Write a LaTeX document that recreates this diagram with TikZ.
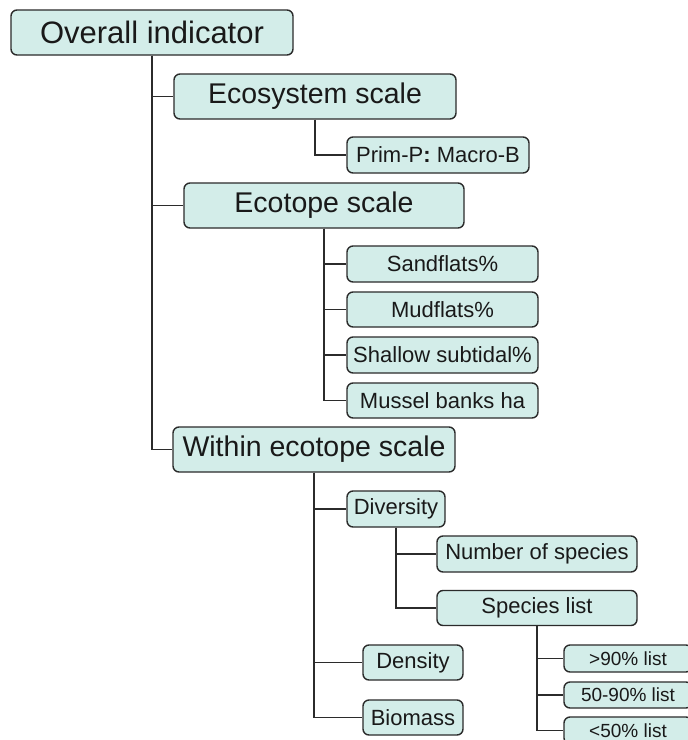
\documentclass[tikz,border=0pt]{standalone}
\usepackage{fontspec}
\setmainfont{Liberation Sans}
\definecolor{boxfill}{HTML}{D3EDE9}
\definecolor{boxline}{HTML}{2B2B2B}
\tikzset{
  box/.style={draw=boxline, line width=1.4pt, fill=boxfill, rounded corners=6pt, inner sep=0pt, align=center, text=black!90},
  huge/.style={box, font=\fontsize{31}{31}\selectfont},
  big/.style={box, font=\fontsize{28.5}{28.5}\selectfont},
  mid/.style={box, font=\fontsize{22}{22}\selectfont},
  small/.style={box, font=\fontsize{19}{19}\selectfont},
  link/.style={draw=boxline, line width=1.6pt}
}
\begin{document}
\begin{tikzpicture}[x=1pt,y=-1pt]
\useasboundingbox[fill=white] (0,0) rectangle (688,740);
% connectors first
\coordinate (ovs) at (152,55);
\coordinate (ecos) at (315,119);
\coordinate (ects) at (324,228);
\coordinate (wis) at (314,472);
\coordinate (divs) at (396,527);
\coordinate (spls) at (537,625);
\node[huge, minimum width=282pt, minimum height=45pt] (ov) at (152,32.5) {Overall indicator};
\node[big, minimum width=282pt, minimum height=45pt] (eco) at (315,96.5) {Ecosystem scale};
\node[mid, minimum width=182pt, minimum height=36pt] (prim) at (438,155) {Prim-P\textbf{:} Macro-B};
\node[big, minimum width=280pt, minimum height=45pt] (ect) at (324,205.5) {Ecotope scale};
\node[mid, minimum width=191pt, minimum height=36pt] (sand) at (442.5,264) {Sandflats\%};
\node[mid, minimum width=191pt, minimum height=35pt] (mud) at (442.5,309.5) {Mudflats\%};
\node[mid, minimum width=191pt, minimum height=36pt] (shal) at (442.5,355) {Shallow subtidal\%};
\node[mid, minimum width=191pt, minimum height=35pt] (mus) at (442.5,400.5) {Mussel banks ha};
\node[big, minimum width=282pt, minimum height=45pt] (wi) at (314,449.5) {Within ecotope scale};
\node[mid, minimum width=98pt, minimum height=36pt] (div) at (396,509) {Diversity};
\node[mid, minimum width=200pt, minimum height=36pt] (num) at (537,554) {Number of species};
\node[mid, minimum width=200pt, minimum height=35pt] (spl) at (537,608) {Species list};
\node[mid, minimum width=100pt, minimum height=35pt] (dens) at (413,662.5) {Density};
\node[mid, minimum width=100pt, minimum height=35pt] (bio) at (413,717.5) {Biomass};
\node[small, minimum width=128pt, minimum height=27pt] (p90) at (628,658.5) {>90\% list};
\node[small, minimum width=128pt, minimum height=26pt] (p50) at (628,695) {50-90\% list};
\node[small, minimum width=128pt, minimum height=27pt] (p5) at (628,730.5) {<50\% list};
% links
\draw[link] (ov.south) |- (eco.west);
\draw[link] (ov.south) |- (ect.west);
\draw[link] (ov.south) |- (wi.west);
\draw[link] (eco.south) |- (prim.west);
\draw[link] (ect.south) |- (sand.west);
\draw[link] (ect.south) |- (mud.west);
\draw[link] (ect.south) |- (shal.west);
\draw[link] (ect.south) |- (mus.west);
\draw[link] (wi.south) |- (div.west);
\draw[link] (wi.south) |- (dens.west);
\draw[link] (wi.south) |- (bio.west);
\draw[link] (div.south) |- (num.west);
\draw[link] (div.south) |- (spl.west);
\draw[link] (spl.south) |- (p90.west);
\draw[link] (spl.south) |- (p50.west);
\draw[link] (spl.south) |- (p5.west);
\end{tikzpicture}
\end{document}
